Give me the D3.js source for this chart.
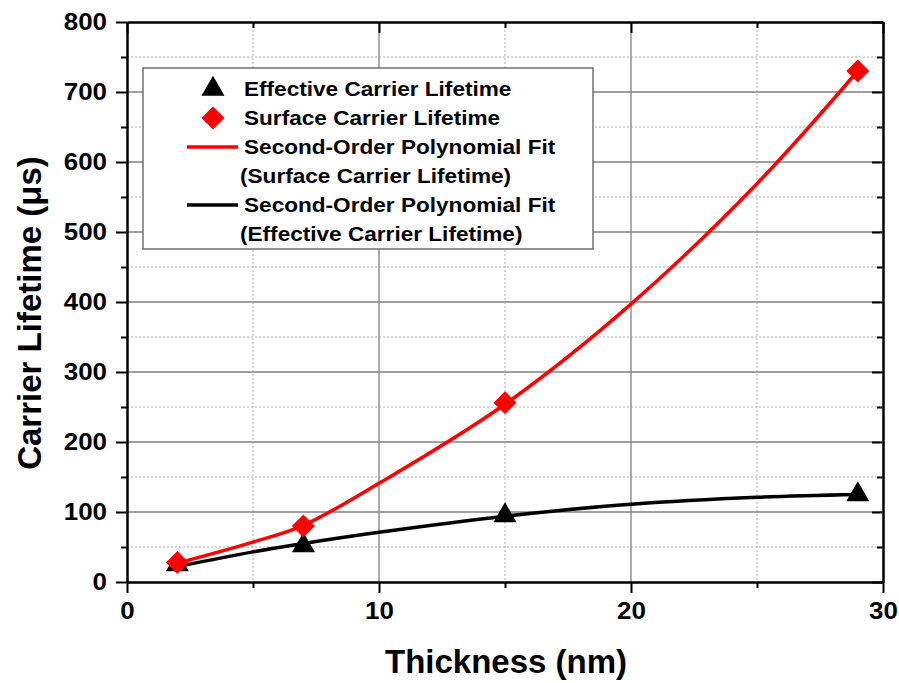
<html>
<head>
<meta charset="utf-8">
<style>
    body { margin: 0; background: #fff; }
    text { font-family: "Liberation Sans", Arial, sans-serif; font-weight: bold; fill: #000; }
</style>
</head>
<body>

<svg id="chart"></svg>

<script src="https://cdn.jsdelivr.net/npm/d3@7"></script>
<script>

    // measured points
    let thickness = [2, 7, 15, 29];
    let effectiveLifetime = [25, 52, 95, 125];
    let surfaceLifetime = [28, 80, 256, 730];

    // fit curves
    let fitThickness = [2, 5, 7, 10, 15, 20, 25, 29];
    let surfaceFit = [27, 57, 81, 141, 254, 397, 569, 730];
    let effectiveFit = [22, 43, 55, 71, 94, 111, 121, 125];

    let xMajor = [0, 10, 20, 30];
    let xMinor = [5, 15, 25];
    let yMajor = [0, 100, 200, 300, 400, 500, 600, 700, 800];
    let yMinor = [50, 150, 250, 350, 450, 550, 650, 750];

    let legendLabels = [
        "Effective Carrier Lifetime",
        "Surface Carrier Lifetime",
        "Second-Order Polynomial Fit",
        "(Surface Carrier Lifetime)",
        "Second-Order Polynomial Fit",
        "(Effective Carrier Lifetime)"
    ];

    let chartWidth = 899, chartHeight = 683;
    let plotLeft = 127, plotRight = 883, plotTop = 22, plotBottom = 582;
    let stretch = 1.13;
    let tickStretch = 1.08;

    let svg = d3.select("#chart").attr("width", chartWidth).attr("height", chartHeight);
    svg.append("rect").attr("width", chartWidth).attr("height", chartHeight).attr("fill", "#fff");

    let x = d3.scaleLinear().domain([0, 30]).range([plotLeft, plotRight]);
    let y = d3.scaleLinear().domain([0, 800]).range([plotBottom, plotTop]);

    // grid
    let grid = svg.append("g");
    grid.selectAll(".gxMinor").data(xMinor).enter().append("line")
        .attr("x1", d => x(d)).attr("x2", d => x(d)).attr("y1", plotTop).attr("y2", plotBottom)
        .attr("stroke", "#b0b0b0").attr("stroke-width", 1).attr("stroke-dasharray", "2,2");
    grid.selectAll(".gyMinor").data(yMinor).enter().append("line")
        .attr("y1", d => y(d)).attr("y2", d => y(d)).attr("x1", plotLeft).attr("x2", plotRight)
        .attr("stroke", "#b0b0b0").attr("stroke-width", 1).attr("stroke-dasharray", "2,2");
    grid.selectAll(".gxMajor").data(xMajor.slice(1, -1)).enter().append("line")
        .attr("x1", d => x(d)).attr("x2", d => x(d)).attr("y1", plotTop).attr("y2", plotBottom)
        .attr("stroke", "#808080").attr("stroke-width", 1.3);
    grid.selectAll(".gyMajor").data(yMajor.slice(1, -1)).enter().append("line")
        .attr("y1", d => y(d)).attr("y2", d => y(d)).attr("x1", plotLeft).attr("x2", plotRight)
        .attr("stroke", "#808080").attr("stroke-width", 1.3);

    // fit lines
    let line = d3.line().x(d => x(d[0])).y(d => y(d[1])).curve(d3.curveCatmullRom);
    svg.append("path").datum(d3.zip(fitThickness, effectiveFit))
        .attr("d", line).attr("fill", "none").attr("stroke", "#000").attr("stroke-width", 3.5);
    svg.append("path").datum(d3.zip(fitThickness, surfaceFit))
        .attr("d", line).attr("fill", "none").attr("stroke", "#ff0000").attr("stroke-width", 3.5);

    // markers
    let triangle = d3.symbol().type(d3.symbolTriangle).size(230);
    let diamond = d3.symbol().type(d3.symbolSquare).size(265);

    svg.append("g").selectAll("path").data(d3.zip(thickness, effectiveLifetime)).enter().append("path")
        .attr("d", triangle)
        .attr("transform", d => "translate(" + x(d[0]) + "," + y(d[1]) + ")")
        .attr("fill", "#000");
    svg.append("g").selectAll("path").data(d3.zip(thickness, surfaceLifetime)).enter().append("path")
        .attr("d", diamond)
        .attr("transform", d => "translate(" + x(d[0]) + "," + y(d[1]) + ") rotate(45)")
        .attr("fill", "#ff0000");

    // legend
    let legend = svg.append("g");
    legend.append("rect")
        .attr("x", 143).attr("y", 68).attr("width", 450).attr("height", 181)
        .attr("fill", "#fff").attr("stroke", "#707070").attr("stroke-width", 1.5);

    let rowY = i => 89 + i * 29;

    legend.selectAll("text").data(legendLabels).enter().append("text")
        .attr("transform", (d, i) => "translate(" + (d[0] == "(" ? 240 : 244) + "," + (rowY(i) + 7) + ") scale(" + stretch + ",1)")
        .attr("font-size", 20)
        .text(d => d);

    legend.append("path").attr("d", triangle).attr("fill", "#000")
        .attr("transform", "translate(213," + rowY(0) + ")");
    legend.append("path").attr("d", diamond).attr("fill", "#ff0000")
        .attr("transform", "translate(213," + rowY(1) + ") rotate(45)");
    legend.append("line").attr("x1", 187).attr("x2", 238).attr("y1", rowY(2)).attr("y2", rowY(2))
        .attr("stroke", "#ff0000").attr("stroke-width", 3.5);
    legend.append("line").attr("x1", 187).attr("x2", 238).attr("y1", rowY(4)).attr("y2", rowY(4))
        .attr("stroke", "#000").attr("stroke-width", 3.5);

    // axes
    function styleAxis(g) {
        g.select(".domain").attr("stroke", "#000").attr("stroke-width", 2);
        g.selectAll(".tick line").attr("stroke", "#000").attr("stroke-width", 2);
    }

    let xAxis = svg.append("g").attr("transform", "translate(0," + plotBottom + ")")
        .call(d3.axisBottom(x).tickValues(xMajor).tickSize(11).tickSizeOuter(0).tickPadding(9).tickFormat(d3.format("d")));
    svg.append("g").attr("transform", "translate(0," + plotBottom + ")")
        .call(d3.axisBottom(x).tickValues(xMinor).tickSize(6).tickSizeOuter(0).tickFormat(""))
        .call(styleAxis);
    xAxis.call(styleAxis);
    xAxis.selectAll("text").attr("font-size", 24).attr("font-family", null)
        .attr("transform", "scale(" + tickStretch + ",1)");

    let yAxis = svg.append("g").attr("transform", "translate(" + plotLeft + ",0)")
        .call(d3.axisLeft(y).tickValues(yMajor).tickSize(11).tickSizeOuter(0).tickPadding(7.5).tickFormat(d3.format("d")));
    svg.append("g").attr("transform", "translate(" + plotLeft + ",0)")
        .call(d3.axisLeft(y).tickValues(yMinor).tickSize(6).tickSizeOuter(0).tickFormat(""))
        .call(styleAxis);
    yAxis.call(styleAxis);
    yAxis.selectAll("text").attr("font-size", 24).attr("font-family", null)
        .attr("transform", "scale(" + tickStretch + ",1)");

    svg.append("g").attr("transform", "translate(0," + plotTop + ")")
        .call(d3.axisTop(x).tickValues(xMajor).tickSize(-11).tickSizeOuter(0).tickFormat(""))
        .call(styleAxis);
    svg.append("g").attr("transform", "translate(0," + plotTop + ")")
        .call(d3.axisTop(x).tickValues(xMinor).tickSize(-6).tickSizeOuter(0).tickFormat(""))
        .call(styleAxis);
    svg.append("g").attr("transform", "translate(" + plotRight + ",0)")
        .call(d3.axisRight(y).tickValues(yMajor).tickSize(-11).tickSizeOuter(0).tickFormat(""))
        .call(styleAxis);
    svg.append("g").attr("transform", "translate(" + plotRight + ",0)")
        .call(d3.axisRight(y).tickValues(yMinor).tickSize(-6).tickSizeOuter(0).tickFormat(""))
        .call(styleAxis);

    // titles
    svg.append("text")
        .attr("x", (plotLeft + plotRight) / 2 + 1).attr("y", 673)
        .attr("text-anchor", "middle").attr("font-size", 33)
        .text("Thickness (nm)");

    svg.append("text")
        .attr("transform", "translate(41," + ((plotTop + plotBottom) / 2 + 11) + ") rotate(-90)")
        .attr("text-anchor", "middle").attr("font-size", 33)
        .text("Carrier Lifetime (μs)");

</script>
</body>
</html>
